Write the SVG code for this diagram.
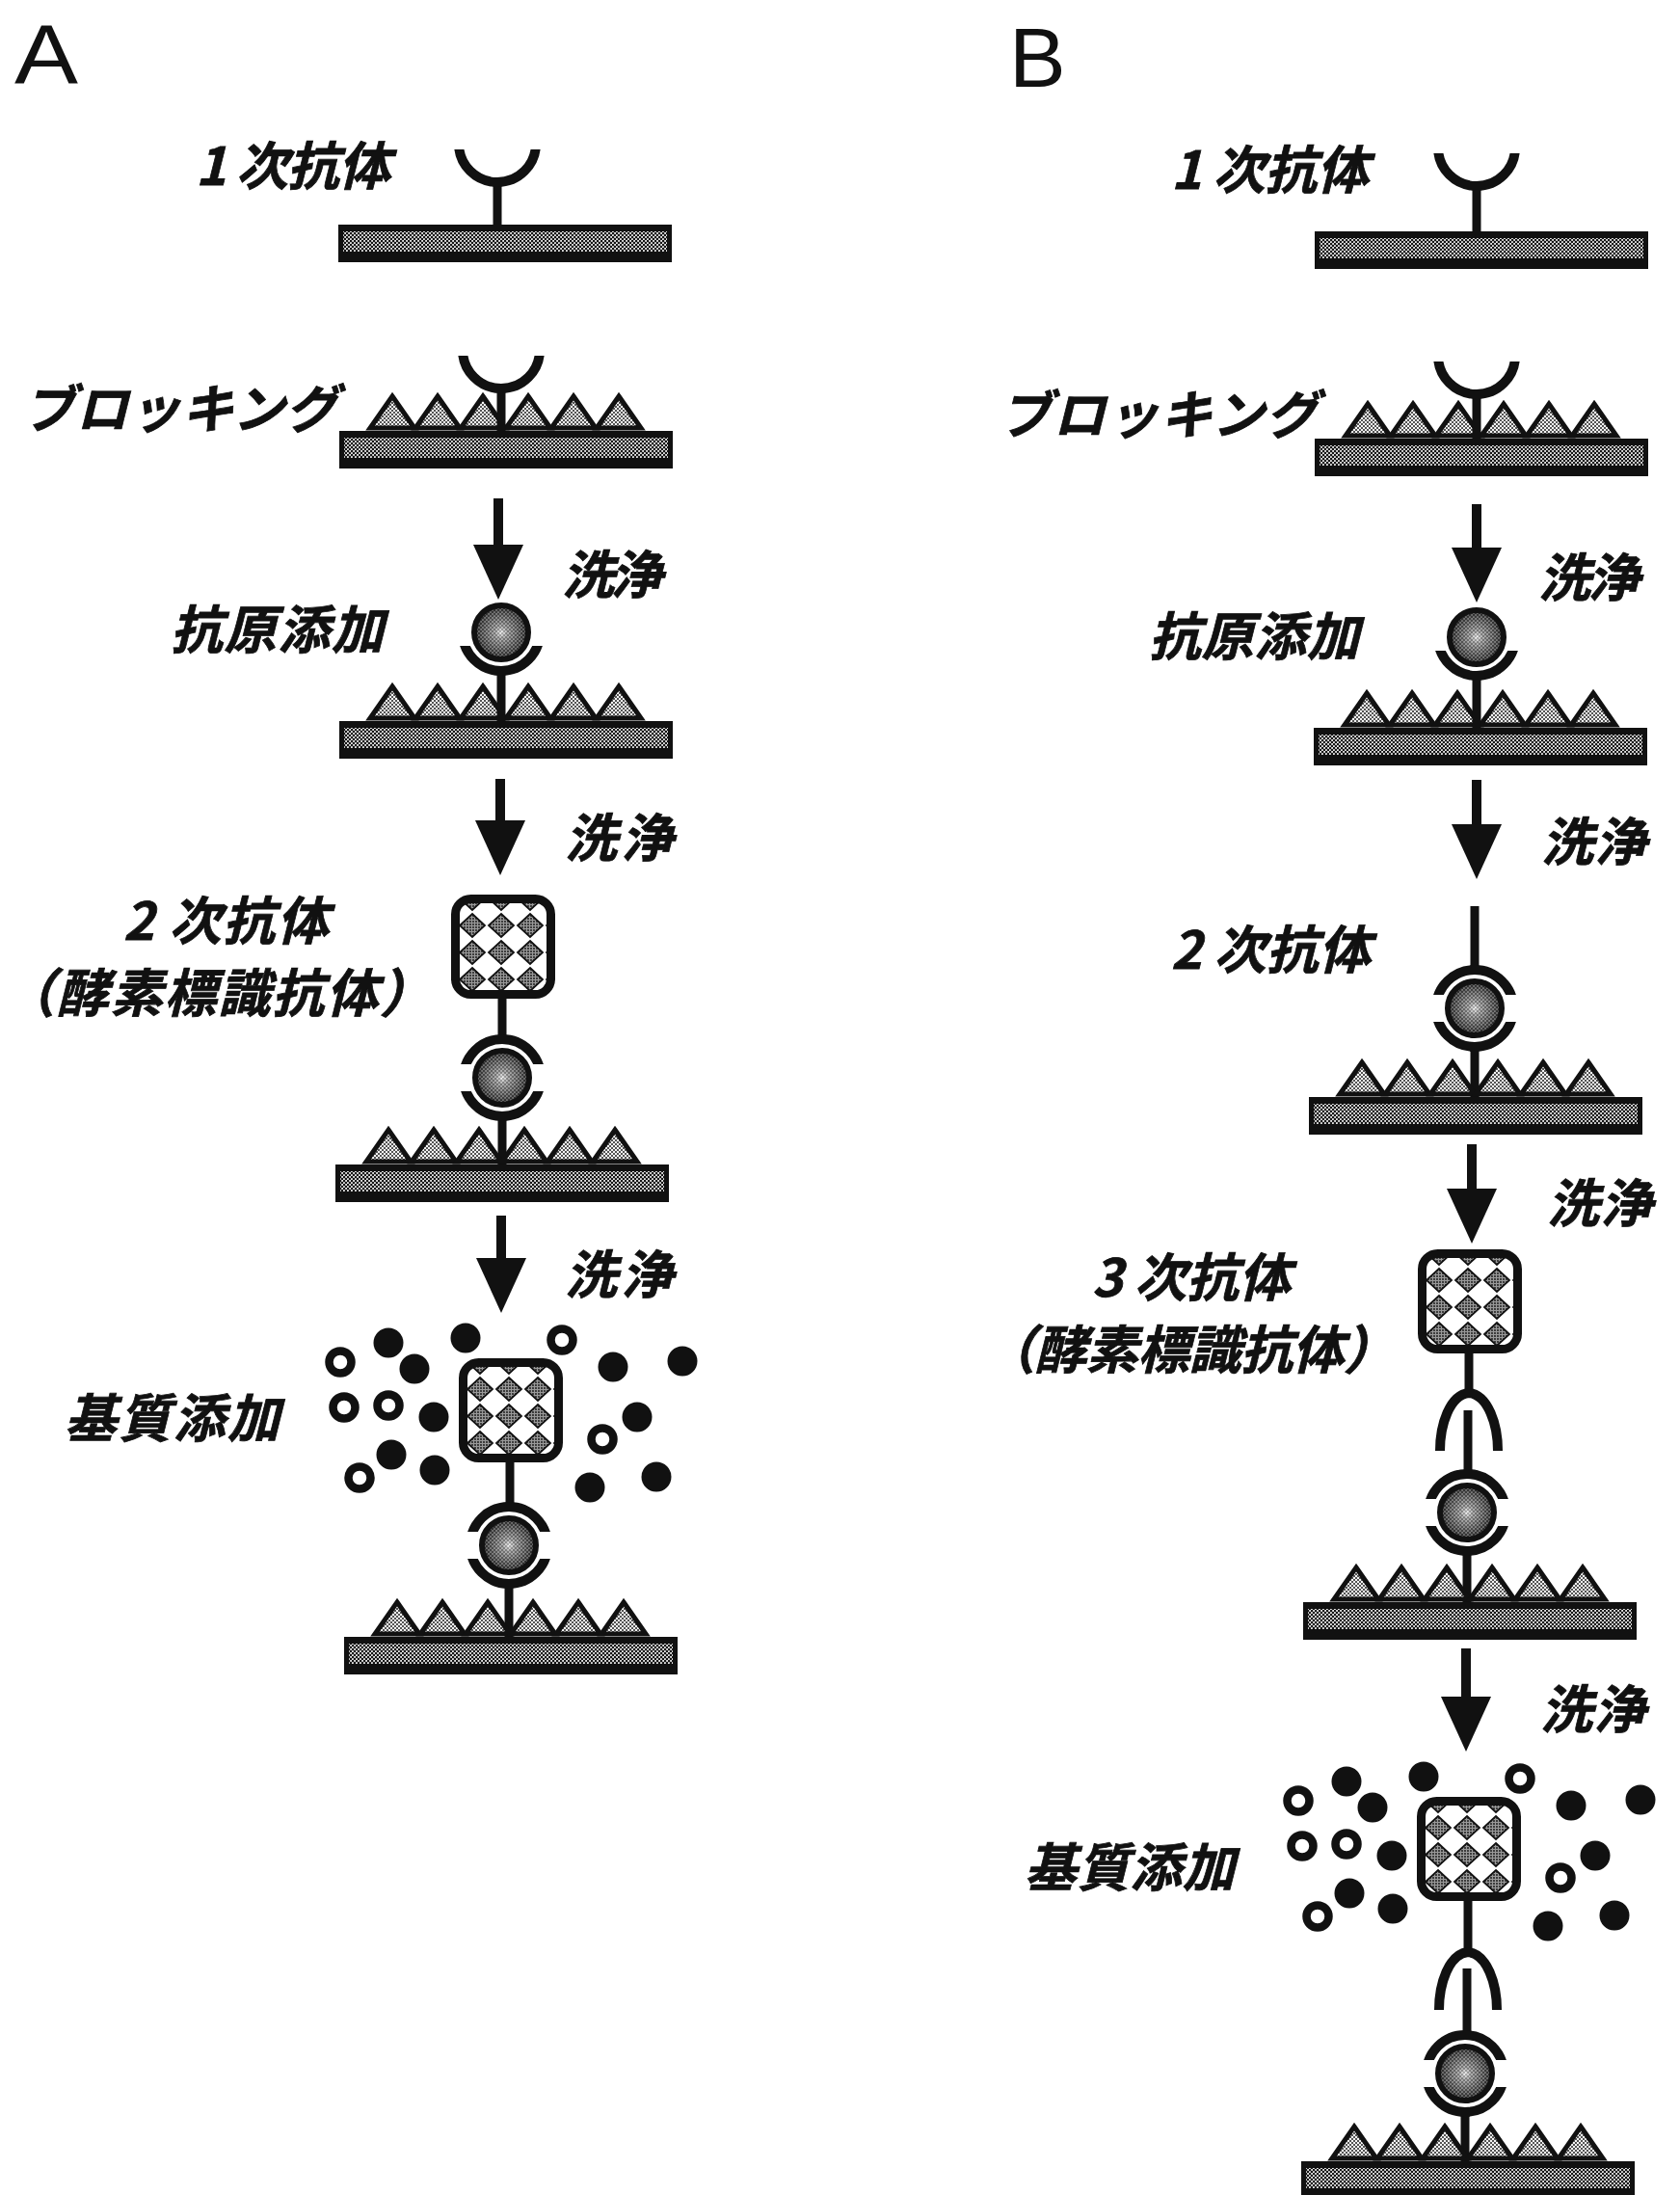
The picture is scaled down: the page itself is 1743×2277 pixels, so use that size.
<svg xmlns="http://www.w3.org/2000/svg" width="1743" height="2277" viewBox="0 0 1743 2277">
<style>
.lbl{font-family:"Noto Sans CJK JP","Noto Sans CJK SC",sans-serif;font-weight:700;font-style:italic;font-size:54px;fill:#111;stroke:#111;stroke-width:0.8}
.panel{font-family:"Liberation Sans",Arial,sans-serif;font-size:88px;fill:#111}
.stem{stroke:#111;stroke-width:9;fill:none}
.ring{fill:none;stroke:#111;stroke-width:10}
.shaft{stroke:#111;stroke-width:10;fill:none}
</style>
<defs>
  <!-- halftone screens -->
  <pattern id="grain" width="4" height="4" patternUnits="userSpaceOnUse">
    <rect width="4" height="4" fill="#e6e6e6"/>
    <circle cx="1" cy="1" r="1.3" fill="#151515"/>
    <circle cx="3" cy="3" r="1.3" fill="#151515"/>
  </pattern>
  <pattern id="grainLight" width="4" height="4" patternUnits="userSpaceOnUse">
    <rect width="4" height="4" fill="#f4f4f4"/>
    <circle cx="1" cy="1" r="1.0" fill="#1e1e1e"/>
    <circle cx="3" cy="3" r="1.0" fill="#1e1e1e"/>
  </pattern>
  <pattern id="grainDark" width="3" height="3" patternUnits="userSpaceOnUse">
    <rect width="3" height="3" fill="#999"/>
    <circle cx="1" cy="1" r="0.9" fill="#111"/>
  </pattern>
  <radialGradient id="ballShade" cx="0.5" cy="0.5" r="0.5">
    <stop offset="0" stop-color="#ffffff"/>
    <stop offset="0.22" stop-color="#a6a6a6"/>
    <stop offset="1" stop-color="#222"/>
  </radialGradient>
  <!-- 45-degree checker inside the enzyme label -->
  <pattern id="checks" x="13" y="20" width="30" height="28" patternUnits="userSpaceOnUse">
    <polygon points="15,2 28,14 15,26 2,14" fill="url(#grainDark)" stroke="#111" stroke-width="1.8"/>
  </pattern>
  <clipPath id="lowHalf"><rect x="-60" y="14" width="120" height="60"/></clipPath>
  <clipPath id="highHalf"><rect x="-60" y="-74" width="120" height="60"/></clipPath>
  <clipPath id="lowOpen"><rect x="-60" y="6" width="120" height="60"/></clipPath>
  <marker id="head" viewBox="0 0 57 52" refX="37" refY="26" markerWidth="57" markerHeight="52" markerUnits="userSpaceOnUse" orient="auto">
    <path d="M0,0 L57,26 L0,52 Z" fill="#111"/>
  </marker>

  <!-- solid phase plate, origin at top-left -->
  <g id="plate">
    <rect width="346" height="39" fill="#111"/>
    <rect x="5" y="7" width="336" height="21" fill="url(#grain)"/>
  </g>
  <!-- blocking agent on the plate, same origin as plate -->
  <g id="blockers" fill="url(#grainLight)" stroke="#111" stroke-width="5" stroke-linejoin="miter">
    <polygon points="55,-36 78,-3 32,-3"/>
    <polygon points="102,-36 125,-3 79,-3"/>
    <polygon points="149,-36 172,-3 126,-3"/>
    <polygon points="196,-36 219,-3 173,-3"/>
    <polygon points="243,-36 266,-3 220,-3"/>
    <polygon points="290,-36 313,-3 267,-3"/>
  </g>
  <!-- free capture antibody arm -->
  <g id="cupOpen"><circle r="40" class="ring" clip-path="url(#lowOpen)"/></g>
  <!-- antibody binding arms, centred on the antigen -->
  <g id="cupLow"><circle r="40" class="ring" clip-path="url(#lowHalf)"/></g>
  <g id="cupHigh"><circle r="40" class="ring" clip-path="url(#highHalf)"/></g>
  <!-- antigen -->
  <g id="ball">
    <circle r="28" fill="url(#ballShade)" stroke="#111" stroke-width="6"/>
    <circle r="25" fill="url(#grain)" opacity="0.3"/>
  </g>
  <!-- enzyme label, centred -->
  <g id="enzyme">
    <rect x="-49.5" y="-49.5" width="99" height="99" rx="16" fill="#fff"/>
    <rect x="-49.5" y="-49.5" width="99" height="99" rx="16" fill="url(#checks)" stroke="#111" stroke-width="9"/>
  </g>
  <!-- anti-IgG fork of the tertiary antibody, origin at its top -->
  <g id="fork"><path d="M-30,67 C-30,40 -20,9 0,7 C20,9 30,40 30,67" class="ring"/></g>
  <!-- chromogenic substrate around the enzyme, centred on the enzyme -->
  <g id="substrates" fill="#111">
    <circle cx="-127" cy="-70" r="15.5"/>
    <circle cx="-47" cy="-75" r="15.5"/>
    <circle cx="-100" cy="-43" r="15.5"/>
    <circle cx="-80" cy="7" r="15.5"/>
    <circle cx="-124" cy="46" r="15.5"/>
    <circle cx="-79" cy="62" r="15.5"/>
    <circle cx="106" cy="-45" r="15.5"/>
    <circle cx="178" cy="-51" r="15.5"/>
    <circle cx="131" cy="7" r="15.5"/>
    <circle cx="82" cy="80" r="15.5"/>
    <circle cx="151" cy="69" r="15.5"/>
    <g fill="none" stroke="#111" stroke-width="8.5">
      <circle cx="-177" cy="-50" r="11.5"/>
      <circle cx="-173" cy="-3" r="11.5"/>
      <circle cx="-127" cy="-5" r="11.5"/>
      <circle cx="-157" cy="70" r="11.5"/>
      <circle cx="53" cy="-73" r="11.5"/>
      <circle cx="95" cy="30" r="11.5"/>
    </g>
  </g>
</defs>

<rect width="1743" height="2277" fill="#fff"/>

<text class="panel" x="15" y="87" textLength="66" lengthAdjust="spacingAndGlyphs">A</text>
<text class="panel" x="1047" y="90">B</text>

<!-- ===== column A : direct sandwich ===== -->
<g id="a-primary">
  <text class="lbl" x="203" y="192" textLength="202" lengthAdjust="spacing">1 次抗体</text>
  <use href="#plate" x="351" y="233"/>
  <line class="stem" x1="516" y1="188" x2="516" y2="234"/>
  <use href="#cupOpen" x="516" y="149"/>
</g>

<g id="a-blocking">
  <text class="lbl" x="24" y="444" textLength="326" lengthAdjust="spacing">ブロッキング</text>
  <use href="#plate" x="352" y="447"/>
  <use href="#blockers" x="352" y="447"/>
  <line class="stem" x1="520" y1="402" x2="520" y2="448"/>
  <use href="#cupOpen" x="520" y="363"/>
</g>

<g id="a-antigen">
  <text class="lbl" x="177" y="673" textLength="221" lengthAdjust="spacing">抗原添加</text>
  <use href="#plate" x="352" y="748"/>
  <use href="#blockers" x="352" y="748"/>
  <line class="stem" x1="520" y1="696" x2="520" y2="749"/>
  <use href="#cupLow" x="520" y="656"/>
  <use href="#ball" x="520" y="656"/>
</g>

<g id="a-secondary">
  <text class="lbl" x="128" y="975" textLength="213" lengthAdjust="spacing">2 次抗体</text>
  <text class="lbl" x="3" y="1050" textLength="445" lengthAdjust="spacing">（酵素標識抗体）</text>
  <line class="stem" x1="521" y1="1030" x2="521" y2="1078"/>
  <use href="#enzyme" x="522" y="982"/>
  <line class="stem" x1="521" y1="1158" x2="521" y2="1209"/>
  <use href="#plate" x="348" y="1208"/>
  <use href="#blockers" x="348" y="1208"/>
  <use href="#cupHigh" x="521" y="1118"/>
  <use href="#cupLow" x="521" y="1118"/>
  <use href="#ball" x="521" y="1118"/>
</g>

<g id="a-substrate">
  <text class="lbl" x="67" y="1491" textLength="223" lengthAdjust="spacing">基質添加</text>
  <use href="#substrates" x="530" y="1463"/>
  <line class="stem" x1="529" y1="1510" x2="529" y2="1562"/>
  <use href="#enzyme" x="530" y="1463"/>
  <line class="stem" x1="528" y1="1643" x2="528" y2="1699"/>
  <use href="#plate" x="357" y="1698"/>
  <use href="#blockers" x="357" y="1698"/>
  <use href="#cupHigh" x="528" y="1603"/>
  <use href="#cupLow" x="528" y="1603"/>
  <use href="#ball" x="528" y="1603"/>
</g>

<!-- ===== column B : amplified sandwich ===== -->
<g id="b-primary">
  <text class="lbl" x="1215" y="196" textLength="205" lengthAdjust="spacing">1 次抗体</text>
  <use href="#plate" x="1364" y="240"/>
  <line class="stem" x1="1532" y1="193" x2="1532" y2="241"/>
  <use href="#cupOpen" x="1532" y="153"/>
</g>

<g id="b-blocking">
  <text class="lbl" x="1037" y="450" textLength="330" lengthAdjust="spacing">ブロッキング</text>
  <use href="#plate" x="1364" y="455"/>
  <use href="#blockers" x="1364" y="455"/>
  <line class="stem" x1="1532" y1="408" x2="1532" y2="456"/>
  <use href="#cupOpen" x="1532" y="369"/>
</g>

<g id="b-antigen">
  <text class="lbl" x="1192" y="680" textLength="218" lengthAdjust="spacing">抗原添加</text>
  <use href="#plate" x="1363" y="755"/>
  <use href="#blockers" x="1363" y="755"/>
  <line class="stem" x1="1532" y1="701" x2="1532" y2="756"/>
  <use href="#cupLow" x="1532" y="661"/>
  <use href="#ball" x="1532" y="661"/>
</g>

<g id="b-secondary">
  <text class="lbl" x="1215" y="1005" textLength="207" lengthAdjust="spacing">2 次抗体</text>
  <line class="stem" x1="1530" y1="940" x2="1530" y2="1005"/>
  <line class="stem" x1="1530" y1="1086" x2="1530" y2="1139"/>
  <use href="#plate" x="1358" y="1138"/>
  <use href="#blockers" x="1358" y="1138"/>
  <use href="#cupHigh" x="1530" y="1046"/>
  <use href="#cupLow" x="1530" y="1046"/>
  <use href="#ball" x="1530" y="1046"/>
</g>

<g id="b-tertiary">
  <text class="lbl" x="1133" y="1345" textLength="206" lengthAdjust="spacing">3 次抗体</text>
  <text class="lbl" x="1020" y="1420" textLength="428" lengthAdjust="spacing">（酵素標識抗体）</text>
  <line class="stem" x1="1524" y1="1395" x2="1524" y2="1446"/>
  <use href="#enzyme" x="1525" y="1350"/>
  <use href="#fork" x="1524" y="1438"/>
  <line class="stem" x1="1523" y1="1463" x2="1523" y2="1528"/>
  <line class="stem" x1="1522" y1="1609" x2="1522" y2="1663"/>
  <use href="#plate" x="1352" y="1662"/>
  <use href="#blockers" x="1352" y="1662"/>
  <use href="#cupHigh" x="1522" y="1569"/>
  <use href="#cupLow" x="1522" y="1569"/>
  <use href="#ball" x="1522" y="1569"/>
</g>

<g id="b-substrate">
  <text class="lbl" x="1063" y="1957" textLength="218" lengthAdjust="spacing">基質添加</text>
  <use href="#substrates" x="1524" y="1918"/>
  <line class="stem" x1="1523" y1="1966" x2="1523" y2="2026"/>
  <use href="#enzyme" x="1524" y="1918"/>
  <use href="#fork" x="1523" y="2018"/>
  <line class="stem" x1="1522" y1="2042" x2="1522" y2="2110"/>
  <line class="stem" x1="1520" y1="2191" x2="1520" y2="2243"/>
  <use href="#plate" x="1350" y="2242"/>
  <use href="#blockers" x="1350" y="2242"/>
  <use href="#cupHigh" x="1520" y="2151"/>
  <use href="#cupLow" x="1520" y="2151"/>
  <use href="#ball" x="1520" y="2151"/>
</g>

<!-- ===== wash steps between stages ===== -->
<g id="connectors">
  <line class="shaft" x1="517" y1="517" x2="517" y2="602" marker-end="url(#head)"/>
  <line class="shaft" x1="519" y1="808" x2="519" y2="888" marker-end="url(#head)"/>
  <line class="shaft" x1="520" y1="1261" x2="520" y2="1342" marker-end="url(#head)"/>
  <line class="shaft" x1="1532" y1="523" x2="1532" y2="605" marker-end="url(#head)"/>
  <line class="shaft" x1="1532" y1="809" x2="1532" y2="892" marker-end="url(#head)"/>
  <line class="shaft" x1="1527" y1="1187" x2="1527" y2="1270" marker-end="url(#head)"/>
  <line class="shaft" x1="1521" y1="1710" x2="1521" y2="1797" marker-end="url(#head)"/>
  <text class="lbl" x="583" y="616" textLength="104" lengthAdjust="spacing">洗浄</text>
  <text class="lbl" x="586" y="889" textLength="112" lengthAdjust="spacing">洗浄</text>
  <text class="lbl" x="586" y="1342" textLength="112" lengthAdjust="spacing">洗浄</text>
  <text class="lbl" x="1596" y="619" textLength="105" lengthAdjust="spacing">洗浄</text>
  <text class="lbl" x="1599" y="893" textLength="109" lengthAdjust="spacing">洗浄</text>
  <text class="lbl" x="1605" y="1268" textLength="109" lengthAdjust="spacing">洗浄</text>
  <text class="lbl" x="1598" y="1793" textLength="109" lengthAdjust="spacing">洗浄</text>
</g>
</svg>
